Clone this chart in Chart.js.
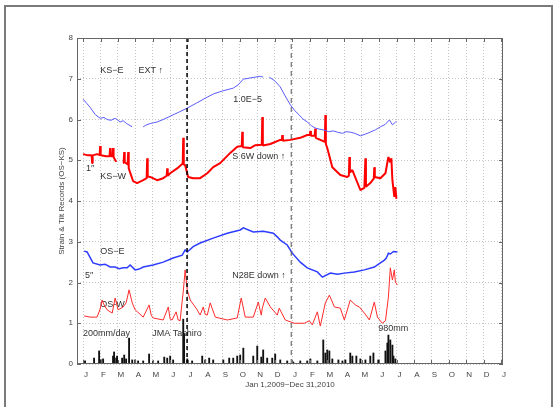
<!DOCTYPE html>
<html>
<head>
<meta charset="utf-8">
<script src="https://cdn.jsdelivr.net/npm/chart.js@4"></script>
<style>
  html, body { margin: 0; padding: 0; background: #fff; }
  #wrap { position: relative; width: 555px; height: 407px; overflow: hidden; }
  #frame { position: absolute; left: 4px; top: 5px; width: 545px; height: 420px; border: 2px solid #7a7a7a; pointer-events: none; }
  canvas { position: absolute; left: 0; top: 0; }
</style>
</head>
<body>
<div id="wrap">
  <canvas id="chart" width="555" height="407"></canvas>
  <div id="frame"></div>
</div>
<script>
// x values are months counted from Jan 1, 2009 (0 = Jan 2009, 12 = Jan 2010, 24 = Jan 2011)
const monthLetters = ['J', 'F', 'M', 'A', 'M', 'J', 'J', 'A', 'S', 'O', 'N', 'D'];
const monthTicks = [0, 1, 2, 3, 4, 5, 6, 7, 8, 9, 10, 11, 12, 13, 14, 15, 16, 17, 18, 19, 20, 21, 22, 23, 24];
const valueTicks = [0, 1, 2, 3, 4, 5, 6, 7, 8];

// KS-E strain (blue, top)
const ksEMonth = [0, 0.2, 0.4, 0.7, 0.98, 1.2, 1.38, 1.6, 1.84, 2.0, 2.13, 2.3, 2.5, 2.82, 3.1, 3.45, 3.6, 3.85, 4.05, 4.25, 4.6, 5.0, 5.5, 5.98, 6.5, 7.13, 7.5, 8.0, 8.62, 8.9, 9.2, 9.6, 10.17, 10.34, 10.5, 10.69, 11.0, 11.32, 11.6, 11.9, 12.15, 12.41, 12.6, 12.87, 13.1, 13.33, 13.6, 13.85, 14.1, 14.35, 14.6, 14.9, 15.1, 15.34, 15.6, 15.92, 16.2, 16.49, 16.8, 17.07, 17.35, 17.59, 17.76, 17.9, 17.99];
const ksEValue = [6.5, 6.4, 6.3, 6.12, 6.03, 6.05, 6.0, 5.98, 6.03, 5.98, 5.94, 5.97, 5.9, 5.82, null, 5.82, 5.86, 5.9, 5.92, 5.94, 6.0, 6.08, 6.18, 6.28, 6.4, 6.55, 6.63, 6.7, 6.77, 6.85, 6.99, 7.02, 7.06, 7.04, null, 7.04, 6.95, 6.8, 6.58, 6.36, 6.22, 6.11, 6.02, 5.94, 5.85, 5.79, 5.76, 5.74, 5.7, 5.72, 5.69, 5.66, 5.7, 5.69, 5.66, 5.6, 5.64, 5.69, 5.75, 5.82, 5.88, 5.99, 5.87, 5.92, 5.96];

// KS-W tilt (red, thick)
const ksWMonth = [0, 0.29, 0.49, 0.52, 0.55, 0.8, 0.95, 0.98, 1.01, 1.32, 1.52, 1.55, 1.58, 1.69, 1.72, 1.75, 1.9, 2.1, 2.3, 2.33, 2.36, 2.39, 2.56, 2.59, 2.62, 2.87, 3.1, 3.45, 3.65, 3.68, 3.71, 3.85, 4.25, 4.6, 4.8, 4.83, 4.86, 5.0, 5.4, 5.72, 5.75, 5.78, 5.86, 6.03, 6.32, 6.72, 7.13, 7.47, 7.87, 8.45, 8.85, 9.11, 9.14, 9.17, 9.6, 9.89, 10.26, 10.29, 10.32, 10.75, 11.32, 11.41, 11.44, 11.47, 11.9, 12.47, 12.87, 13.02, 13.05, 13.08, 13.3, 13.33, 13.36, 13.62, 13.88, 13.91, 13.94, 14.02, 14.31, 14.77, 15.17, 15.26, 15.29, 15.32, 15.46, 15.92, 16.15, 16.18, 16.21, 16.24, 16.49, 16.69, 16.72, 16.75, 17.07, 17.36, 17.53, 17.64, 17.7, 17.76, 17.87, 17.93, 17.99];
const ksWValue = [5.15, 5.12, 5.12, 4.93, 5.12, 5.15, 5.13, 5.35, 5.12, 5.1, 5.1, 5.3, 5.1, 5.1, 5.3, 5.08, 4.96, null, 4.93, 4.95, 5.2, 4.95, 4.9, 5.2, 4.8, 4.49, 4.44, 4.51, 4.56, 5.05, 4.6, 4.59, 4.51, 4.56, 4.62, 4.8, 4.62, 4.68, 4.8, 4.92, 5.55, 4.9, 4.88, 4.59, 4.56, 4.56, 4.68, 4.83, 4.93, 5.18, 5.33, 5.35, 5.7, 5.32, 5.3, 5.37, 5.38, 6.06, 5.36, 5.4, 5.5, 5.5, 5.62, 5.48, 5.5, 5.55, 5.62, 5.62, 5.72, 5.6, 5.6, 5.78, 5.55, 5.5, 5.45, 6.11, 5.4, 5.3, 4.83, 4.64, 4.59, 4.62, 5.08, 4.7, 4.76, 4.27, 4.32, 4.32, 5.05, 4.35, 4.44, 4.55, 4.83, 4.59, 4.56, 4.68, 5.08, 4.95, 5.05, 4.51, 4.1, 4.34, 4.05];

// OS-E strain (blue, lower)
const osEMonth = [0.06, 0.23, 0.57, 0.98, 1.26, 1.55, 1.84, 2.07, 2.3, 2.53, 2.7, 2.99, 3.22, 3.45, 4.02, 4.6, 5.17, 5.69, 5.86, 5.98, 6.32, 6.72, 7.47, 8.28, 9.02, 9.2, 9.77, 10.34, 10.57, 10.92, 11.15, 11.32, 11.72, 12.01, 12.47, 12.87, 13.45, 13.74, 14.2, 14.6, 15.0, 15.57, 16.15, 16.72, 17.3, 17.41, 17.53, 17.64, 17.82, 18.05];
const osEValue = [2.77, 2.75, 2.48, 2.43, 2.45, 2.38, 2.38, 2.34, 2.36, 2.36, 2.43, 2.31, 2.33, 2.38, 2.43, 2.5, 2.6, 2.67, 2.8, 2.75, 2.88, 2.97, 3.09, 3.21, 3.29, 3.34, 3.24, 3.26, 3.24, 3.21, 3.12, 3.04, 2.92, 2.72, 2.5, 2.36, 2.26, 2.13, 2.23, 2.2, 2.23, 2.26, 2.31, 2.38, 2.55, 2.6, 2.72, 2.7, 2.76, 2.75];

// OS-W tilt (red, thin)
const osWMonth = [0.06, 0.4, 0.8, 0.98, 1.09, 1.21, 1.38, 1.67, 1.84, 2.01, 2.3, 2.47, 2.64, 2.82, 2.99, 3.45, 3.79, 3.91, 4.02, 4.6, 4.89, 5.0, 5.11, 5.34, 5.46, 5.57, 5.69, 5.75, 5.86, 5.98, 6.15, 6.55, 6.72, 6.9, 7.01, 7.13, 7.3, 7.59, 8.28, 8.85, 9.08, 9.31, 9.77, 10.06, 10.23, 10.29, 10.46, 10.75, 11.15, 11.26, 11.61, 12.13, 12.7, 12.99, 13.16, 13.45, 13.62, 13.91, 14.14, 14.43, 14.77, 15.0, 15.34, 15.63, 15.86, 16.15, 16.44, 16.72, 16.9, 17.18, 17.36, 17.53, 17.64, 17.76, 17.87, 17.93, 18.05];
const osWValue = [1.18, 1.15, 1.15, 1.35, 1.57, 1.45, 1.33, 1.25, 1.62, 1.33, 1.4, 1.5, 1.82, 1.5, 1.33, 1.15, 1.45, 1.2, 1.13, 1.08, 1.4, 1.1, 1.08, 1.28, 1.08, 1.06, 1.55, 1.77, 2.31, 1.82, 1.57, 1.33, 1.2, 1.4, 1.22, 1.2, 1.5, 1.15, 1.08, 1.13, 1.62, 1.15, 1.15, 1.52, 1.2, 1.37, 1.62, 1.4, 1.2, 1.37, 1.08, 1.0, 1.0, 1.06, 0.96, 1.28, 0.93, 1.5, 1.69, 1.4, 1.37, 1.08, 1.57, 1.45, 1.4, 1.25, 1.08, 1.52, 1.15, 1.0, 1.06, 1.64, 2.36, 2.06, 2.31, 2.01, 1.94];

// daily rainfall, mm/day (200 mm/day = 1 unit on the axis)
const rainMonth = [0.11, 0.63, 0.92, 1.03, 1.15, 1.72, 1.78, 1.9, 1.95, 2.24, 2.36, 2.47, 2.64, 2.82, 2.99, 3.16, 3.45, 3.79, 4.02, 4.31, 4.66, 4.83, 5.0, 5.17, 5.75, 5.8, 5.98, 6.26, 6.84, 7.01, 7.24, 7.47, 8.05, 8.39, 8.62, 8.85, 9.02, 9.2, 9.77, 10.0, 10.23, 10.34, 10.57, 10.86, 11.03, 11.32, 11.72, 12.07, 12.47, 12.87, 13.05, 13.45, 13.79, 13.91, 14.02, 14.14, 14.31, 14.66, 14.89, 15.06, 15.34, 15.46, 15.69, 15.92, 16.21, 16.49, 16.67, 16.95, 17.36, 17.47, 17.53, 17.64, 17.76, 17.82, 17.93];
const rainMm = [15, 29, 64, 20, 25, 39, 59, 29, 39, 29, 44, 25, 127, 20, 20, 15, 15, 49, 15, 15, 34, 29, 39, 20, 220, 147, 25, 15, 39, 20, 29, 20, 20, 29, 29, 39, 44, 78, 39, 88, 34, 69, 29, 29, 49, 20, 15, 10, 15, 15, 25, 15, 118, 54, 69, 64, 25, 20, 15, 20, 54, 39, 39, 25, 20, 39, 54, 20, 64, 103, 142, 118, 93, 39, 25];

// dashed event markers
const eventMonth = [5.97, 11.95];

// text labels inside the plot
const noteText = ['KS\u2212E      EXT \u2191', '1.0E\u22125', 'S 6W down \u2191', '1\u2033', 'KS\u2212W', 'OS\u2212E', '5\u2033', 'N28E down \u2191', 'OS-W', '200mm/day', 'JMA Tashiro', '980mm'];
const noteMonth = [0.98, 8.62, 8.56, 0.17, 0.98, 0.98, 0.11, 8.56, 0.98, 0.0, 3.97, 16.95];
const noteValue = [7.19, 6.5, 5.08, 4.8, 4.59, 2.75, 2.16, 2.16, 1.47, 0.76, 0.76, 0.88];

const pts = (xs, ys) => xs.map((x, i) => ({ x: x, y: ys[i] }));

const FONT = '"Liberation Sans", Arial, sans-serif';

const notesPlugin = {
    id: 'notes',
    beforeDatasetsDraw(chart) {
        const ctx = chart.ctx;
        const xs = chart.scales.x, ys = chart.scales.y;
        ctx.save();
        ctx.fillStyle = '#333';
        ctx.font = '9px ' + FONT;
        ctx.textAlign = 'left';
        ctx.textBaseline = 'middle';
        noteText.forEach((t, i) => {
            ctx.fillText(t, xs.getPixelForValue(noteMonth[i]), ys.getPixelForValue(noteValue[i]));
        });
        ctx.restore();
    },
    afterDraw(chart) {
        // box around the plot with inward ticks
        const ctx = chart.ctx;
        const a = chart.chartArea;
        const xs = chart.scales.x, ys = chart.scales.y;
        ctx.save();
        ctx.strokeStyle = '#666';
        ctx.lineWidth = 1;
        ctx.strokeRect(a.left + 0.5, a.top + 0.5, a.right - a.left - 1, a.bottom - a.top - 1);
        ctx.beginPath();
        monthTicks.forEach(m => {
            const px = Math.round(xs.getPixelForValue(m)) + 0.5;
            ctx.moveTo(px, a.bottom); ctx.lineTo(px, a.bottom - 4);
            ctx.moveTo(px, a.top); ctx.lineTo(px, a.top + 4);
        });
        valueTicks.forEach(v => {
            const py = Math.round(ys.getPixelForValue(v)) + 0.5;
            ctx.moveTo(a.left, py); ctx.lineTo(a.left + 4, py);
            ctx.moveTo(a.right, py); ctx.lineTo(a.right - 4, py);
        });
        ctx.stroke();
        ctx.restore();
    }
};

const datasets = [
    ...eventMonth.map((m, i) => ({
        type: 'line',
        data: [{ x: m, y: 0 }, { x: m, y: 8 }],
        borderColor: i === 0 ? '#000' : '#555',
        borderWidth: i === 0 ? 1.5 : 1,
        borderDash: i === 0 ? [4, 3] : [5, 4],
        pointRadius: 0
    })),
    { type: 'line', label: 'KS-E', data: pts(ksEMonth, ksEValue), borderColor: '#5b5bff', borderWidth: 1, pointRadius: 0, spanGaps: false },
    { type: 'line', label: 'KS-W', data: pts(ksWMonth, ksWValue), borderColor: '#ff0000', borderWidth: 2, borderJoinStyle: 'bevel', pointRadius: 0, spanGaps: false },
    { type: 'line', label: 'OS-E', data: pts(osEMonth, osEValue), borderColor: '#2d3cff', borderWidth: 1.5, pointRadius: 0 },
    { type: 'line', label: 'OS-W', data: pts(osWMonth, osWValue), borderColor: '#ff2a2a', borderWidth: 1, pointRadius: 0 },
    { type: 'bar', label: 'rain', data: pts(rainMonth, rainMm.map(v => v / 200)), backgroundColor: '#111', barThickness: 1.2 }
];

new Chart(document.getElementById('chart').getContext('2d'), {
    type: 'line',
    data: { datasets: datasets },
    options: {
        responsive: false,
        animation: false,
        layout: { padding: { left: 0, top: 38, right: 52, bottom: 0 } },
        plugins: { legend: { display: false }, tooltip: { enabled: false } },
        elements: { line: { tension: 0 } },
        scales: {
            x: {
                type: 'linear',
                min: -0.35,
                max: 24.11,
                offset: false,
                afterBuildTicks: s => { s.ticks = monthTicks.map(v => ({ value: v })); },
                afterFit: s => { s.height = 43; },
                ticks: {
                    callback: v => monthLetters[((v % 12) + 12) % 12],
                    autoSkip: false,
                    maxRotation: 0,
                    padding: 6,
                    labelOffset: 3,
                    color: '#444',
                    font: { family: FONT, size: 8 }
                },
                grid: { color: '#c4c4c4', drawTicks: false, offset: false },
                border: { display: false, dash: [1, 2] },
                title: {
                    display: true,
                    text: 'Jan 1,2009~Dec 31,2010',
                    color: '#444',
                    font: { family: FONT, size: 8 },
                    padding: { top: 0, bottom: 17 }
                }
            },
            y: {
                min: 0,
                max: 8,
                afterBuildTicks: s => { s.ticks = valueTicks.map(v => ({ value: v })); },
                afterFit: s => { s.width = 77; },
                ticks: { padding: 4, color: '#444', font: { family: FONT, size: 8 } },
                grid: { color: '#c4c4c4', drawTicks: false },
                border: { display: false, dash: [1, 2] },
                title: {
                    display: true,
                    text: 'Strain & Tilt Records (OS\u2212KS)',
                    color: '#444',
                    font: { family: FONT, size: 8 },
                    padding: { top: 57, bottom: 0 }
                }
            }
        }
    },
    plugins: [notesPlugin]
});
</script>
</body>
</html>
